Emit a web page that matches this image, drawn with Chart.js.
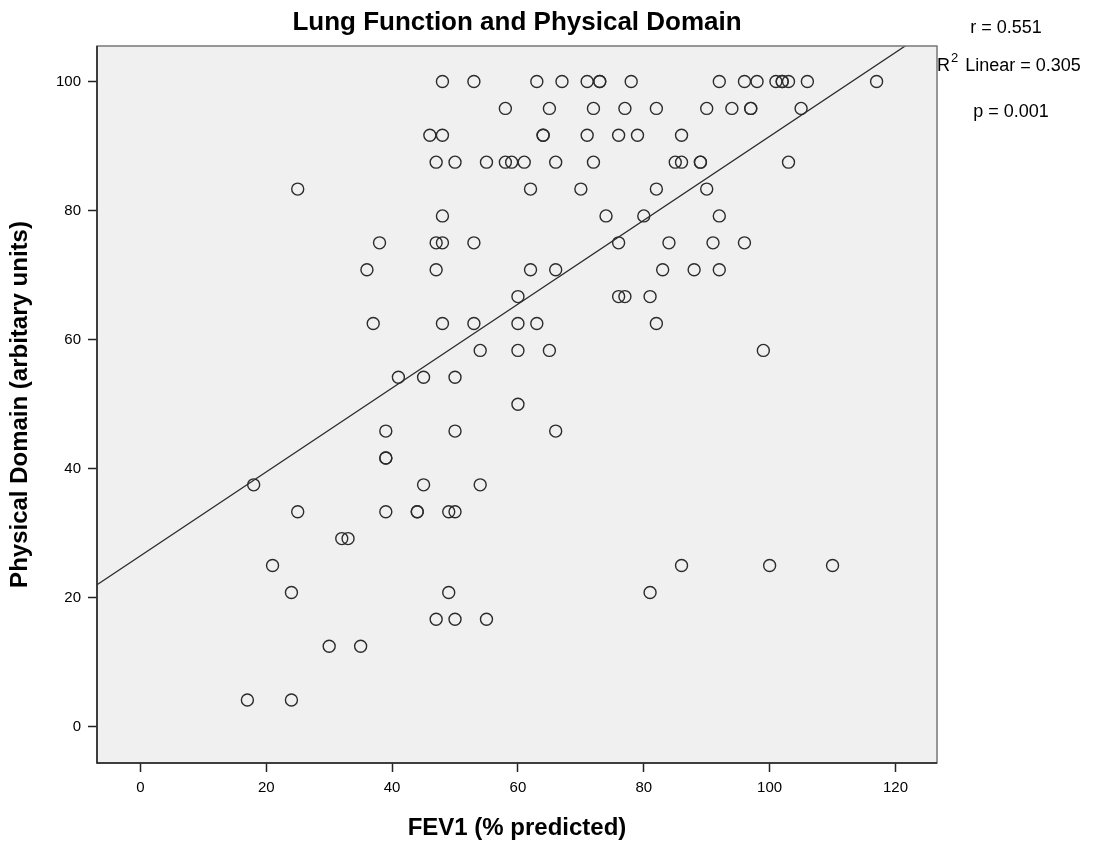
<!DOCTYPE html>
<html>
<head>
<meta charset="utf-8">
<script src="https://cdn.jsdelivr.net/npm/chart.js@4"></script>
<style>
  body { margin: 0; background: #fff; }
  #wrap { width: 1095px; height: 848px; }
</style>
</head>
<body>
<div id="wrap"><canvas id="grafico" width="1095" height="848"></canvas></div>
<script>
// FEV1 (% predicted) de cada doente, na mesma ordem que o dominio fisico
const fev1 = [
  48, 53, 63, 67, 71, 73, 73, 78, 92, 96, 98, 101, 102, 102, 103, 106, 117,
  58, 65, 72, 77, 82, 90, 94, 97, 97, 105,
  46, 48, 64, 64, 71, 76, 79, 86,
  47, 50, 55, 58, 59, 61, 66, 72, 85, 86, 89, 89, 103,
  25, 62, 70, 82, 90,
  48, 74, 80, 92,
  38, 47, 48, 53, 76, 84, 91, 96,
  36, 47, 62, 66, 83, 88, 92,
  60, 76, 77, 81,
  37, 48, 53, 60, 63, 82,
  54, 60, 65, 99,
  41, 45, 50,
  60,
  39, 50, 66,
  39, 39,
  18, 45, 54,
  25, 39, 44, 44, 49, 50,
  32, 33,
  21, 86, 100, 110,
  24, 49, 81,
  47, 50, 55,
  30, 35,
  17, 24
];

// Physical Domain (unidades arbitrarias)
const physical = [
  100, 100, 100, 100, 100, 100, 100, 100, 100, 100, 100, 100, 100, 100, 100, 100, 100,
  95.83, 95.83, 95.83, 95.83, 95.83, 95.83, 95.83, 95.83, 95.83, 95.83,
  91.67, 91.67, 91.67, 91.67, 91.67, 91.67, 91.67, 91.67,
  87.5, 87.5, 87.5, 87.5, 87.5, 87.5, 87.5, 87.5, 87.5, 87.5, 87.5, 87.5, 87.5,
  83.33, 83.33, 83.33, 83.33, 83.33,
  79.17, 79.17, 79.17, 79.17,
  75, 75, 75, 75, 75, 75, 75, 75,
  70.83, 70.83, 70.83, 70.83, 70.83, 70.83, 70.83,
  66.67, 66.67, 66.67, 66.67,
  62.5, 62.5, 62.5, 62.5, 62.5, 62.5,
  58.33, 58.33, 58.33, 58.33,
  54.17, 54.17, 54.17,
  50,
  45.83, 45.83, 45.83,
  41.67, 41.67,
  37.5, 37.5, 37.5,
  33.33, 33.33, 33.33, 33.33, 33.33, 33.33,
  29.17, 29.17,
  25, 25, 25, 25,
  20.83, 20.83, 20.83,
  16.67, 16.67, 16.67,
  12.5, 12.5,
  4.17, 4.17
];

// Recta de regressao
const FIT_INTERCEPT = 26.5;
const FIT_SLOPE = 0.65;

const X_MIN = -6.9, X_MAX = 126.6;
const Y_MIN = -5.6, Y_MAX = 105.5;

const xTicks = [0, 20, 40, 60, 80, 100, 120];
const yTicks = [0, 20, 40, 60, 80, 100];

const titulo = 'Lung Function and Physical Domain';
const estatR = 'r = 0.551';
const estatR2 = '0.305';
const estatP = 'p = 0.001';

const pontos = fev1.map((v, i) => ({ x: v, y: physical[i] }));
const recta = [X_MIN, X_MAX].map(x => ({ x: x, y: FIT_INTERCEPT + FIT_SLOPE * x }));

const FONTE = "'Liberation Sans', Arial, sans-serif";

// Fundo cinzento da area do grafico, moldura e textos extra
const fundoPlugin = {
  id: 'fundoPlugin',
  beforeDatasetsDraw(chart) {
    const { ctx, chartArea: { left, top, right, bottom } } = chart;
    ctx.save();
    ctx.fillStyle = '#f0f0f0';
    ctx.fillRect(left, top, right - left, bottom - top);
    ctx.restore();
  },
  afterDraw(chart) {
    const { ctx, chartArea: { left, top, right, bottom } } = chart;
    ctx.save();
    ctx.strokeStyle = '#777';
    ctx.lineWidth = 1.5;
    ctx.strokeRect(left, top, right - left, bottom - top);
    ctx.strokeStyle = '#222';
    ctx.beginPath();
    ctx.moveTo(left, top);
    ctx.lineTo(left, bottom);
    ctx.lineTo(right, bottom);
    ctx.stroke();

    ctx.fillStyle = '#000';
    ctx.textBaseline = 'middle';
    ctx.textAlign = 'center';
    ctx.font = 'bold 26px ' + FONTE;
    ctx.fillText(titulo, (left + right) / 2, 23);

    ctx.font = '18px ' + FONTE;
    ctx.fillText(estatR, 1006, 28);
    ctx.fillText(estatP, 1011, 112);

    // R com expoente 2
    ctx.textAlign = 'left';
    let x = 937;
    ctx.fillText('R', x, 66);
    x += ctx.measureText('R').width + 1;
    ctx.font = '13px ' + FONTE;
    ctx.fillText('2', x, 58);
    x += ctx.measureText('2').width + 2;
    ctx.font = '18px ' + FONTE;
    ctx.fillText(' Linear = ' + estatR2, x, 66);
    ctx.restore();
  }
};

new Chart(document.getElementById('grafico'), {
  type: 'scatter',
  data: {
    datasets: [
      {
        data: pontos,
        pointStyle: 'circle',
        pointRadius: 6,
        pointHoverRadius: 6,
        borderColor: '#2b2b2b',
        borderWidth: 1.4,
        backgroundColor: 'rgba(0,0,0,0)'
      },
      {
        type: 'line',
        data: recta,
        borderColor: '#2b2b2b',
        borderWidth: 1.3,
        pointRadius: 0,
        fill: false
      }
    ]
  },
  options: {
    responsive: false,
    animation: false,
    layout: { padding: { left: 0, top: 46, right: 158, bottom: 0 } },
    plugins: {
      legend: { display: false },
      tooltip: { enabled: false }
    },
    scales: {
      x: {
        type: 'linear',
        min: X_MIN,
        max: X_MAX,
        afterFit(scale) { scale.height = 85; },
        afterBuildTicks(scale) { scale.ticks = xTicks.map(v => ({ value: v })); },
        ticks: {
          color: '#000',
          padding: 7,
          maxRotation: 0,
          font: { family: FONTE, size: 15 }
        },
        grid: { drawOnChartArea: false, drawTicks: true, tickLength: 9, tickColor: '#222', tickWidth: 1.5 },
        border: { display: false },
        title: {
          display: true,
          text: 'FEV1 (% predicted)',
          color: '#000',
          font: { family: FONTE, size: 24, weight: 'bold' },
          padding: { top: 0, bottom: 5 }
        }
      },
      y: {
        type: 'linear',
        min: Y_MIN,
        max: Y_MAX,
        afterFit(scale) { scale.width = 97; },
        afterBuildTicks(scale) { scale.ticks = yTicks.map(v => ({ value: v })); },
        ticks: {
          color: '#000',
          padding: 7,
          font: { family: FONTE, size: 15 }
        },
        grid: { drawOnChartArea: false, drawTicks: true, tickLength: 9, tickColor: '#222', tickWidth: 1.5 },
        border: { display: false },
        title: {
          display: true,
          text: 'Physical Domain (arbitary units)',
          color: '#000',
          font: { family: FONTE, size: 24, weight: 'bold' },
          padding: { top: 6, bottom: 0 }
        }
      }
    }
  },
  plugins: [fundoPlugin]
});
</script>
</body>
</html>
